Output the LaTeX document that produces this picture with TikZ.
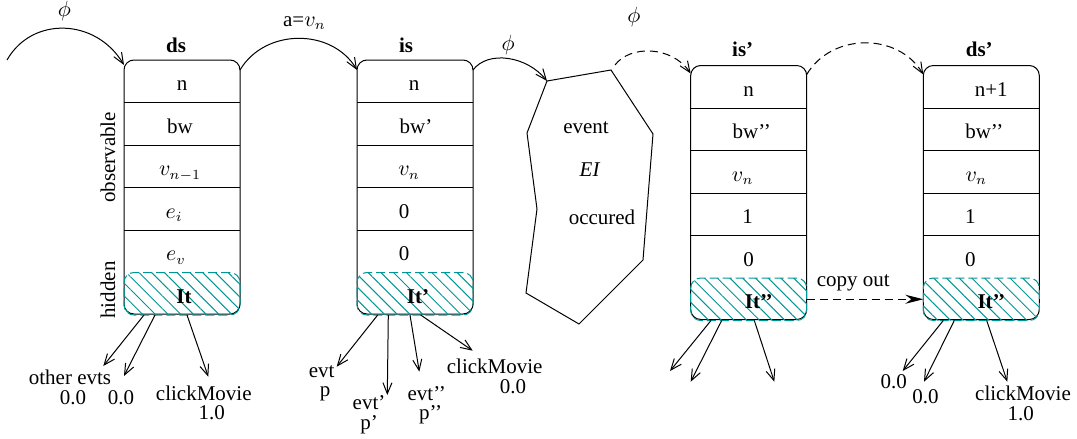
\documentclass[tikz,border=0pt]{standalone}
\usepackage{fontspec}
\setmainfont{Liberation Serif}
\usetikzlibrary{arrows.meta,patterns.meta,positioning}
\definecolor{hatchteal}{RGB}{0,150,150}
\newcommand\figfont{\fontsize{10.5}{12.6}\selectfont}
\begin{document}
\begin{tikzpicture}[x=0.5pt, y=-0.5pt, font=\figfont, line width=0.5pt,
  boxframe/.style={draw, rounded corners=5pt, minimum width=58pt, minimum height=127pt, inner sep=0pt, outer sep=0pt},
  cell/.style={minimum width=58pt, minimum height=21.25pt, inner sep=0pt, outer sep=0pt, text height=10pt, text depth=0.3pt},
  nudge/.style={execute at begin node={\hspace*{#1}}},
  hidcell/.style={cell, draw=hatchteal, line width=0.5pt, dash pattern=on 4.5pt off 2pt, rounded corners=5pt,
    pattern={Lines[angle=-45, distance=4.5pt, line width=0.5pt]}, pattern color=hatchteal, font=\figfont\bfseries},
  boxtitle/.style={font=\figfont\bfseries},
  flow/.style={-{Straight Barb[length=5.5pt, width=4.5pt]}, line width=0.5pt},
  flowdash/.style={flow, dash pattern=on 4pt off 2.5pt},
  copyarrow/.style={-{Stealth[length=9pt, width=4.5pt, inset=3pt]}, dash pattern=on 4pt off 2.5pt, line width=0.5pt},
  leaf/.style={-{Straight Barb[length=5.5pt, width=4.5pt]}, line width=0.5pt},
  tag/.style={inner sep=1pt},
]
\useasboundingbox (0,0) rectangle (1077,439);

% ---------- state ds ----------
\node[boxframe] (ds) at (182,187) {};
\node[cell, below=0pt of ds.north] (ds-1) {n};
\node[cell, below=0pt of ds-1, nudge=-2pt] (ds-2) {bw};
\node[cell, below=0pt of ds-2, nudge=-2pt] (ds-3) {$v_{n-1}$};
\node[cell, below=0pt of ds-3, nudge=-8pt] (ds-4) {$e_i$};
\node[cell, below=0pt of ds-4, nudge=-6pt] (ds-5) {$e_v$};
\node[hidcell, below=0pt of ds-5, nudge=2pt] (ds-h) {It};
\foreach \i in {1,...,4} \draw (ds-\i.south west) -- (ds-\i.south east);
\node[boxtitle] (ds-t) at ([shift={(-6,-15)}]ds.north) {ds};
\node[rotate=90] (obs) at (108,157.5) {observable};
\node[rotate=90] (hid) at (108,290) {hidden};

% ---------- state is ----------
\node[boxframe] (is) at (415,187) {};
\node[cell, below=0pt of is.north, nudge=-1pt] (is-1) {n};
\node[cell, below=0pt of is-1, nudge=1pt] (is-2) {bw’};
\node[cell, below=0pt of is-2, nudge=-6pt] (is-3) {$v_n$};
\node[cell, below=0pt of is-3, nudge=-11pt] (is-4) {0};
\node[cell, below=0pt of is-4, nudge=-11pt] (is-5) {0};
\node[hidcell, below=0pt of is-5, nudge=3pt] (is-h) {It’};
\foreach \i in {1,...,4} \draw (is-\i.south west) -- (is-\i.south east);
\node[boxtitle] (is-t) at ([shift={(-9,-15)}]is.north) {is};

% ---------- state is' ----------
\node[boxframe] (isp) at (748.7,192.5) {};
\node[cell, below=0pt of isp.north] (isp-1) {n};
\node[cell, below=0pt of isp-1, nudge=3pt] (isp-2) {bw’’};
\node[cell, below=0pt of isp-2, nudge=-6pt] (isp-3) {$v_n$};
\node[cell, below=0pt of isp-3, nudge=-1pt] (isp-4) {1};
\node[cell, below=0pt of isp-4] (isp-5) {0};
\node[hidcell, below=0pt of isp-5, nudge=10pt] (isp-h) {It’’};
\foreach \i in {1,...,4} \draw (isp-\i.south west) -- (isp-\i.south east);
\node[boxtitle] (isp-t) at ([shift={(-6,-16)}]isp.north) {is’};

% ---------- state ds' ----------
\node[boxframe] (dsp) at (981.3,192.5) {};
\node[cell, below=0pt of dsp.north, nudge=10pt] (dsp-1) {n+1};
\node[cell, below=0pt of dsp-1, nudge=3pt] (dsp-2) {bw’’};
\node[cell, below=0pt of dsp-2, nudge=-5pt] (dsp-3) {$v_n$};
\node[cell, below=0pt of dsp-3, nudge=-11pt] (dsp-4) {1};
\node[cell, below=0pt of dsp-4, nudge=-11pt] (dsp-5) {0};
\node[hidcell, below=0pt of dsp-5, nudge=10pt] (dsp-h) {It’’};
\foreach \i in {1,...,4} \draw (dsp-\i.south west) -- (dsp-\i.south east);
\node[boxtitle] (dsp-t) at ([shift={(-2,-16)}]dsp.north) {ds’};

% ---------- event polygon ----------
\coordinate (e1) at (547,81);
\coordinate (e2) at (611,70);
\coordinate (e3) at (653,134);
\coordinate (e4) at (643,260);
\coordinate (e5) at (579,324);
\coordinate (e6) at (526,293);
\coordinate (e7) at (537,209);
\coordinate (e8) at (527,133);
\draw (e1) -- (e2) -- (e3) -- (e4) -- (e5) -- (e6) -- (e7) -- (e8) -- cycle;
\node (ev1) at (586,128) {event};
\node (ev2) at (590,170) {\textit{EI}};
\node (ev3) at (602,217) {occured};

% ---------- transitions ----------
\coordinate (src) at (7,60);
\draw[flow] (src) .. controls +(25,-44) and +(-28,-47) .. ([yshift=-2.5pt]ds.north west)
  node[midway, above=2.5pt, tag] {$\phi$};
\draw[flow] ([yshift=-5pt]ds.north east) .. controls +(25,-42) and +(-25,-42) .. ([yshift=-5pt]is.north west)
  node[midway, above=3pt, xshift=3pt, tag] {a=$v_n$};
\draw[flow] ([yshift=-5pt]is.north east) .. controls +(15,-20) and +(-20,-25) .. (e1)
  node[midway, above=0.9pt, tag] {$\phi$};
\draw[flowdash] ([shift={(4,-5)}]e2) .. controls +(15,-20) and +(-19,-28) .. ([yshift=-4pt]isp.north west)
  node[midway, above=10.8pt, xshift=-8.75pt, tag] {$\phi$};
\draw[flowdash] ([yshift=-4.5pt]isp.north east) .. controls +(25,-42) and +(-25,-42) .. ([yshift=-4.5pt]dsp.north west);
\draw[copyarrow] (isp-h.east) -- (dsp-h.west)
  node[midway, above=2.8pt, xshift=-5.85pt, tag] {copy out};

% ---------- outgoing events of ds ----------
\coordinate (ds-a1) at (103.3,366);
\coordinate (ds-a2) at (124,376);
\coordinate (ds-a3) at (208.3,376.7);
\draw[leaf] ([xshift=10pt]ds-h.south west) -- (ds-a1);
\draw[leaf] ([xshift=15.5pt]ds-h.south west) -- (ds-a2);
\draw[leaf] ([xshift=31.5pt]ds-h.south west) -- (ds-a3);
\node (ds-l1) at (70,377.5) {other evts};
\node (ds-l2) at (73,397.5) {0.0};
\node (ds-l3) at (121,397.5) {0.0};
\node (ds-l4) at (203.8,393) {clickMovie};
\node (ds-l5) at (211.7,413) {1.0};

% ---------- outgoing events of is ----------
\coordinate (is-a1) at (336.7,366.7);
\coordinate (is-a2) at (387.3,395);
\coordinate (is-a3) at (419.3,371.7);
\coordinate (is-a4) at (472.7,350.7);
\draw[leaf] ([xshift=10.35pt]is-h.south west) -- (is-a1);
\draw[leaf] ([xshift=15.65pt]is-h.south west) -- (is-a2);
\draw[leaf] ([xshift=26.5pt]is-h.south west) -- (is-a3);
\draw[leaf] ([xshift=31.85pt]is-h.south west) -- (is-a4);
\node (is-l1) at (321.7,371.7) {evt};
\node (is-l2) at (325,394) {p};
\node (is-l3) at (369,403) {evt’};
\node (is-l4) at (369,425) {p’};
\node (is-l5) at (426.7,393.3) {evt’’};
\node (is-l6) at (430.7,415) {p’’};
\node (is-l7) at (494.7,366) {clickMovie};
\node (is-l8) at (513,387) {0.0};

% ---------- outgoing events of is' ----------
\coordinate (isp-a1) at (670,371);
\coordinate (isp-a2) at (690.7,381.7);
\coordinate (isp-a3) at (774.3,381.7);
\draw[leaf] ([xshift=10.15pt]isp-h.south west) -- (isp-a1);
\draw[leaf] ([xshift=15.5pt]isp-h.south west) -- (isp-a2);
\draw[leaf] ([xshift=31.8pt]isp-h.south west) -- (isp-a3);

% ---------- outgoing events of ds' ----------
\coordinate (dsp-a1) at (902.7,371);
\coordinate (dsp-a2) at (924,381.7);
\coordinate (dsp-a3) at (1007.3,381.7);
\draw[leaf] ([xshift=10pt]dsp-h.south west) -- (dsp-a1);
\draw[leaf] ([xshift=15.5pt]dsp-h.south west) -- (dsp-a2);
\draw[leaf] ([xshift=31.7pt]dsp-h.south west) -- (dsp-a3);
\node (dsp-l1) at (893.7,382) {0.0};
\node (dsp-l2) at (925.5,397) {0.0};
\node (dsp-l3) at (1023,393) {clickMovie};
\node (dsp-l4) at (1020.8,413.7) {1.0};
\end{tikzpicture}
\end{document}
